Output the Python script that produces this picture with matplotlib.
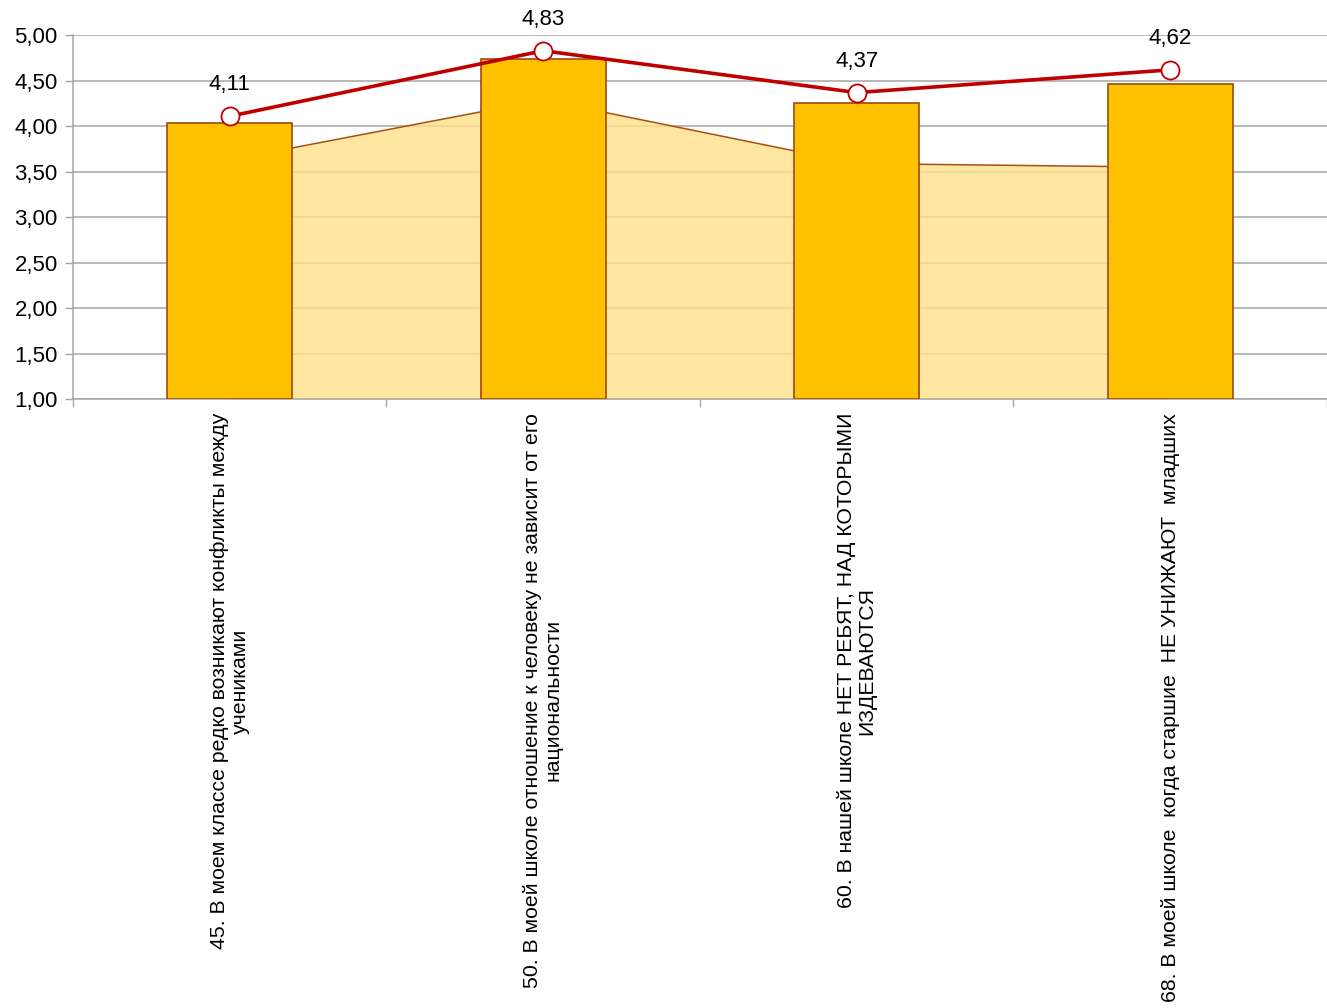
import matplotlib.pyplot as plt
import numpy as np

plt.rcParams["font.family"] = ["Liberation Sans", "DejaVu Sans"]

categories = [
    "45. В моем классе редко возникают конфликты между\nучениками",
    "50. В моей школе отношение к человеку не зависит от его\nнациональности",
    "60. В нашей школе НЕТ РЕБЯТ, НАД КОТОРЫМИ\nИЗДЕВАЮТСЯ",
    "68. В моей школе  когда старшие  НЕ УНИЖАЮТ  младших",
]
area_values = [3.63, 4.29, 3.59, 3.55]
bar_values = [4.04, 4.74, 4.26, 4.46]
line_values = [4.11, 4.83, 4.37, 4.62]

x = np.arange(len(categories))

fig = plt.figure(figsize=(13.27, 10.08), dpi=100)
ax = fig.add_axes([0.055, 0.604, 0.945, 0.361])

base = 1.0
ax.fill_between(x, base, area_values, color="#FFE08A", alpha=0.8,
                zorder=2, linewidth=0)
ax.plot(x, area_values, color="#A84E0F", linewidth=1.1, zorder=2.5)

ax.bar(x, np.array(bar_values) - base, bottom=base, width=0.4,
       color="#FFC000", edgecolor="#9C4A12", linewidth=1.2, zorder=3)

ax.plot(x, line_values, color="#C00000", linewidth=2.6, zorder=4,
        marker="o", markersize=13, markerfacecolor="white",
        markeredgecolor="#C00000", markeredgewidth=1.3)

for xi, v in zip(x, line_values):
    ax.annotate(f"{v:.2f}".replace(".", ","), (xi, v),
                xytext=(0, 15), textcoords="offset points",
                ha="center", va="bottom", fontsize=16, zorder=5)

ax.set_xlim(-0.5, len(categories) - 0.5)
ax.set_ylim(1.0, 5.0)
yt = np.arange(1.0, 5.01, 0.5)
ax.set_yticks(yt)
ax.set_yticklabels([f"{v:.2f}".replace(".", ",") for v in yt], fontsize=16)
ax.yaxis.grid(True, color="#A6A6A6", linewidth=1.1, zorder=0)
ax.set_axisbelow(True)

ax.set_xticks(np.arange(-0.5, len(categories) + 0.5, 1.0))
ax.set_xticklabels([])
ax.tick_params(axis="x", length=6, color="#A6A6A6", width=1)
ax.tick_params(axis="y", length=6, color="#A6A6A6", width=1, pad=5)

for s in ["top", "right"]:
    ax.spines[s].set_visible(False)
for s in ["left", "bottom"]:
    ax.spines[s].set_color("#A6A6A6")
    ax.spines[s].set_linewidth(1.1)

for xi, lab in zip(x, categories):
    ax.text(xi, -0.038, lab, transform=ax.get_xaxis_transform(),
            rotation=90, ha="center", va="top", multialignment="center",
            fontsize=15.3, linespacing=1.1)

fig.savefig("out.png", dpi=100)
